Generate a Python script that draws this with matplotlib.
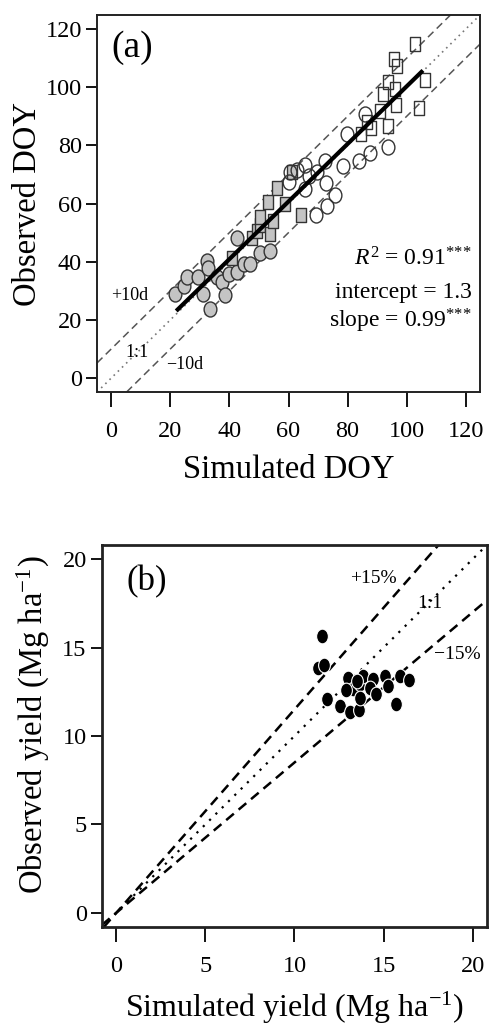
import numpy as np
import matplotlib
matplotlib.use("Agg")
import matplotlib.pyplot as plt
from matplotlib.path import Path

plt.rcParams["font.family"] = ["Liberation Serif", "DejaVu Serif"]
plt.rcParams["mathtext.fontset"] = "custom"
plt.rcParams["mathtext.rm"] = "Liberation Serif"
plt.rcParams["mathtext.it"] = "Liberation Serif:italic"

# panel (a): phenology DOY
gray_circ_x = [21.7, 24.5, 25.6, 29.5, 32.4, 32.9, 31.2, 33.5, 35.8, 37.5, 38.6, 39.7,
               42.5, 44.8, 47.0, 42.5, 50.4, 53.8]
gray_circ_y = [29.0, 31.8, 34.6, 34.6, 40.3, 38.0, 29.0, 23.9, 34.6, 32.9, 28.4, 35.8,
               36.3, 39.2, 39.2, 48.2, 43.1, 43.7]
gray_sq_x = [40.8, 47.6, 49.3, 50.4, 53.8, 50.4, 53.0, 54.9, 56.0, 58.9, 61.1, 64.3]
gray_sq_y = [41.4, 48.2, 50.5, 52.7, 49.6, 55.5, 60.6, 54.0, 65.5, 59.8, 70.7, 56.0]
open_circ_x = [60.0, 62.8, 65.7, 66.8, 65.7, 69.6, 72.4, 72.8, 69.3, 73.0, 75.8, 78.6,
               83.7, 87.6, 93.5, 79.8, 86.0, 60.6]
open_circ_y = [67.5, 71.5, 73.2, 69.6, 65.1, 71.0, 74.7, 67.0, 56.0, 59.0, 63.0, 73.0,
               74.5, 77.5, 79.5, 84.0, 90.7, 70.7]
open_sq_x = [102.9, 95.8, 96.8, 93.8, 96.1, 92.0, 106.3, 104.0, 96.5, 91.0, 86.5, 93.8,
             84.5, 88.0]
open_sq_y = [114.7, 109.6, 107.2, 101.8, 99.5, 97.5, 102.6, 93.0, 94.0, 91.8, 88.0, 86.8,
             83.8, 86.0]
reg_intercept = 1.3
reg_slope = 0.99
reg_x = [22.0, 105.5]
doy_ticks = [0, 20, 40, 60, 80, 100, 120]

# panel (b): yield
sim_yield = [11.52, 11.33, 11.65, 11.83, 12.54, 13.10, 13.63, 13.01, 13.29, 13.66, 13.85,
             14.41, 14.22, 14.60, 15.06, 15.25, 15.90, 16.42, 15.68, 13.66, 12.92, 13.50]
obs_yield = [15.67, 13.86, 14.04, 12.08, 11.70, 11.33, 11.48, 13.30, 12.64, 12.92, 13.39,
             13.20, 12.74, 12.36, 13.39, 12.83, 13.39, 13.16, 11.80, 12.17, 12.60, 13.10]
yield_ticks = [0, 5, 10, 15, 20]

# slightly tall markers like in the original
circ = Path.unit_circle()
ell = Path(circ.vertices * [0.85, 1.0], circ.codes)
ell_b = Path(circ.vertices * [0.8, 1.0], circ.codes)
rect = Path([(-0.78, -1), (0.78, -1), (0.78, 1), (-0.78, 1), (-0.78, -1)],
            [Path.MOVETO, Path.LINETO, Path.LINETO, Path.LINETO, Path.CLOSEPOLY])

fig = plt.figure(figsize=(4.91, 10.29), dpi=100)
ax1 = fig.add_axes([0.1976, 0.619, 0.780, 0.3664])
ax2 = fig.add_axes([0.2077, 0.0991, 0.784, 0.3713])

# ---- (a)
ax1.axline((0, 10), slope=1, color="#555555", ls=(0, (5, 3)), lw=1.1)
ax1.axline((0, -10), slope=1, color="#555555", ls=(0, (5, 3)), lw=1.1)
ax1.axline((0, 0), slope=1, color="#777777", ls=(0, (1, 2.5)), lw=1.2)

edge = "#333333"
ax1.plot(gray_circ_x, gray_circ_y, ls="none", marker=ell, ms=10.8, mfc="#c4c4c4", mec=edge, mew=1)
ax1.plot(gray_sq_x, gray_sq_y, ls="none", marker=rect, ms=10, mfc="#c4c4c4", mec=edge, mew=1)
ax1.plot(open_circ_x, open_circ_y, ls="none", marker=ell, ms=10.8, mfc="none", mec=edge, mew=1)
ax1.plot(open_sq_x, open_sq_y, ls="none", marker=rect, ms=10, mfc="none", mec=edge, mew=1)

reg_x = np.array(reg_x)
ax1.plot(reg_x, reg_intercept + reg_slope * reg_x, color="black", lw=3, solid_capstyle="butt")

ax1.set_xlim(-4.8, 124.8)
ax1.set_ylim(-4.8, 124.8)
ax1.set_xticks(doy_ticks)
ax1.set_yticks(doy_ticks)

ax1.text(7.1, 113.7, "(a)", fontsize=27, ha="center", va="center")
ax1.text(122, 41, r"$\mathit{R}^{2}$ = 0.91$^{{*}{*}{*}}$", fontsize=17, ha="right", va="center")
ax1.text(122, 29.5, "intercept = 1.3", fontsize=17, ha="right", va="center")
ax1.text(122, 19.5, r"slope = 0.99$^{{*}{*}{*}}$", fontsize=17, ha="right", va="center")
ax1.text(6.1, 28.4, "+10d", fontsize=13, ha="center", va="center")
ax1.text(8.8, 8.8, "1:1", fontsize=13, ha="center", va="center")
ax1.text(24.7, 4.7, "\u221210d", fontsize=13, ha="center", va="center")

ax1.set_xlabel("Simulated DOY", fontsize=23.5, va="center")
ax1.xaxis.set_label_coords(0.5, -0.205)
ax1.set_ylabel("Observed DOY", fontsize=23.5, va="center")
ax1.yaxis.set_label_coords(-0.18, 0.5)

# ---- (b)
ax2.axline((0, 0), slope=1.15, color="black", ls=(0, (4, 2.5)), lw=1.8)
ax2.axline((0, 0), slope=0.85, color="black", ls=(0, (4, 2.5)), lw=1.8)
ax2.axline((0, 0), slope=1, color="black", ls=(0, (1, 3)), lw=1.6)

ax2.plot(sim_yield, obs_yield, ls="none", marker=ell_b, ms=10.6, mfc="black", mec="white", mew=0.8)

ax2.set_xlim(-0.8, 20.8)
ax2.set_ylim(-0.8, 20.8)
ax2.set_xticks(yield_ticks)
ax2.set_yticks(yield_ticks)

ax2.text(1.7, 18.75, "(b)", fontsize=25, ha="center", va="center")
ax2.text(14.4, 18.9, "+15%", fontsize=14, ha="center", va="center")
ax2.text(17.6, 17.5, "1:1", fontsize=14, ha="center", va="center")
ax2.text(19.15, 14.6, "\u221215%", fontsize=14, ha="center", va="center")

ax2.set_xlabel(r"Simulated yield (Mg ha$^{\mathrm{-1}}$)", fontsize=23, va="center")
ax2.xaxis.set_label_coords(0.5, -0.212)
ax2.set_ylabel(r"Observed yield (Mg ha$^{\mathrm{-1}}$)", fontsize=23.5, va="center")
ax2.yaxis.set_label_coords(-0.179, 0.53)

for ax, lw in [(ax1, 1.4), (ax2, 2.0)]:
    for s in ax.spines.values():
        s.set_linewidth(lw)
        s.set_color("#222222")
    ax.tick_params(axis="x", direction="out", length=11, width=1.3, pad=10, labelsize=17.5)
    ax.tick_params(axis="y", direction="out", length=8, width=1.3, pad=3, labelsize=17.5)

fig.savefig("out.png", dpi=100)
